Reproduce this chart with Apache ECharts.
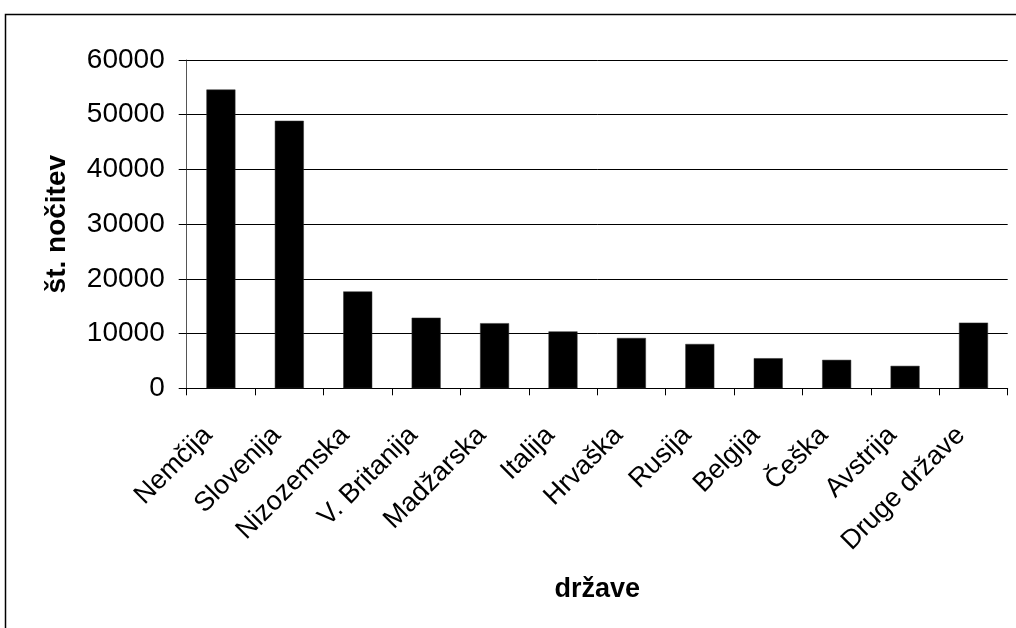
<!DOCTYPE html>
<html>
<head>
<meta charset="utf-8">
<script src="https://cdn.jsdelivr.net/npm/echarts@6/dist/echarts.min.js"></script>
<style>
html,body{margin:0;padding:0;background:#fff;}
#c{width:1016px;height:628px;}
</style>
</head>
<body>
<div id="c"></div>
<script>
var categories = ['Nemčija','Slovenija','Nizozemska','V. Britanija','Madžarska','Italija','Hrvaška','Rusija','Belgija','Češka','Avstrija','Druge države'];
var values = [54600, 48900, 17700, 12900, 11900, 10400, 9200, 8100, 5500, 5200, 4100, 12000];
var yTicks = [0, 10000, 20000, 30000, 40000, 50000, 60000];
var xTitle = 'države';
var yTitle = 'št. nočitev';

var FONT = '"Liberation Sans", Arial, sans-serif';
var chart = echarts.init(document.getElementById('c'), null, {renderer:'canvas'});
chart.setOption({
  animation: false,
  backgroundColor: '#fff',
  graphic: [{
    type: 'rect', silent: true,
    shape: {x: 5.5, y: 14.5, width: 1100, height: 700},
    style: {fill: 'none', stroke: '#000', lineWidth: 1.5}
  }],
  grid: {left: 186.7, right: 8.3, top: 60, bottom: 239.7, containLabel: false},
  xAxis: {
    type: 'category',
    data: categories,
    name: xTitle,
    nameLocation: 'middle',
    nameGap: 188,
    nameTextStyle: {fontFamily: FONT, fontSize: 27, fontWeight: 'bold', color: '#000'},
    axisLine: {show: true, lineStyle: {color: '#000', width: 1}},
    axisTick: {show: true, length: 7, alignWithLabel: false, lineStyle: {color: '#000'}},
    axisLabel: {
      interval: 0, rotate: 45, margin: 30, padding: [0, 18, 0, 0],
      fontFamily: FONT, fontSize: 27, color: '#000'
    },
    splitLine: {show: false}
  },
  yAxis: {
    type: 'value',
    min: yTicks[0],
    max: yTicks[yTicks.length - 1],
    interval: yTicks[1] - yTicks[0],
    name: yTitle,
    nameLocation: 'middle',
    nameGap: 115,
    nameTextStyle: {fontFamily: FONT, fontSize: 28, fontWeight: 'bold', color: '#000'},
    axisLine: {show: true, lineStyle: {color: '#555', width: 1}},
    axisTick: {show: true, length: 8, lineStyle: {color: '#000'}},
    axisLabel: {
      margin: 22, fontFamily: FONT, fontSize: 28, color: '#000',
      formatter: function (v) { return String(v); }
    },
    splitLine: {show: true, lineStyle: {color: '#000', width: 1}}
  },
  series: [{
    type: 'bar',
    data: values,
    barWidth: 29,
    itemStyle: {color: '#000', borderColor: '#333', borderWidth: 0.5}
  }]
});
</script>
</body>
</html>
